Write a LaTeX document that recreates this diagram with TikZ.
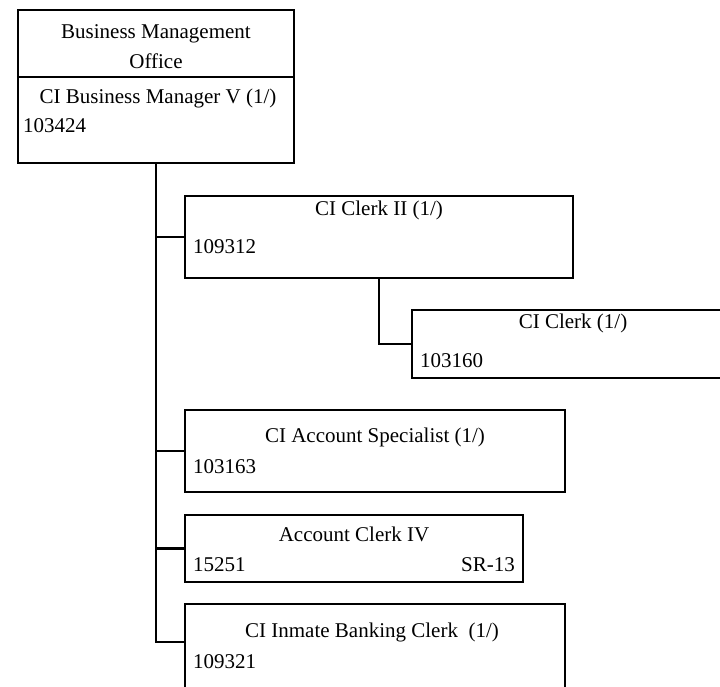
\documentclass[tikz,border=0pt]{standalone}
\usepackage{fontspec}
\setmainfont{Liberation Serif}
\tikzstyle{pbox}=[rectangle,draw=black,line width=2.2pt,inner sep=0pt]
\tikzstyle{ptitle}=[anchor=base,inner sep=0pt,font=\fontsize{21}{25}\selectfont]
\tikzstyle{pcode}=[anchor=base west,inner sep=0pt,font=\fontsize{21}{25}\selectfont]
\tikzstyle{orgline}=[line width=2.2pt]

\begin{document}
\begin{tikzpicture}[x=1pt,y=-1pt,orgline]
\useasboundingbox (0,0) rectangle (720,686);
\clip (0,0) rectangle (720,686);
% boxes
\node[pbox,minimum width=276pt,minimum height=153pt] (B) at (156,86.5) {};
\node[pbox,minimum width=388pt,minimum height=82pt] (C2) at (379,237) {};
\node[pbox,minimum width=322pt,minimum height=68pt] (C1) at (573,344) {};
\node[pbox,minimum width=380pt,minimum height=82pt] (AS) at (375,451) {};
\node[pbox,minimum width=338pt,minimum height=67pt] (AC) at (354,548.5) {};
\node[pbox,minimum width=380pt,minimum height=116pt] (IB) at (375,662) {};
\draw ([yshift=-68pt]B.north west) -- ([yshift=-68pt]B.north east);
% texts
\node[ptitle] (Bt1) at (156,38) {Business Management};
\node[ptitle] (Bt2) at (156,68) {Office};
\node[ptitle] (Bt3) at (158,103) {CI Business Manager V (1/)};
\node[pcode] (Bc) at (22,132) {103424};
\node[ptitle] (C2t) at (379,215) {CI Clerk II (1/)};
\node[pcode] (C2c) at (192,253) {109312};
\node[ptitle] (C1t) at (573,328) {CI Clerk (1/)};
\node[pcode] (C1c) at (419,367) {103160};
\node[ptitle] (ASt) at (375,442) {CI Account Specialist (1/)};
\node[pcode] (ASc) at (192,473) {103163};
\node[ptitle] (ACt) at (354,541) {Account Clerk IV};
\node[pcode] (ACc) at (192,571) {15251};
\node[pcode,anchor=base east] (ACs) at (516,571) {SR-13};
\node[ptitle] (IBt) at (372,637) {CI Inmate Banking Clerk\ \ (1/)};
\node[pcode] (IBc) at (192,668) {109321};
% connectors
\coordinate (IBin) at ([yshift=-39pt]IB.north west);
\draw (B.south) |- (IBin);
\draw (B.south |- C2.west) -- (C2.west);
\draw (B.south |- AS.west) -- (AS.west);
\draw (B.south |- AC.west) -- (AC.west);
\draw (C2.south) |- (C1.west);
\end{tikzpicture}
\end{document}
